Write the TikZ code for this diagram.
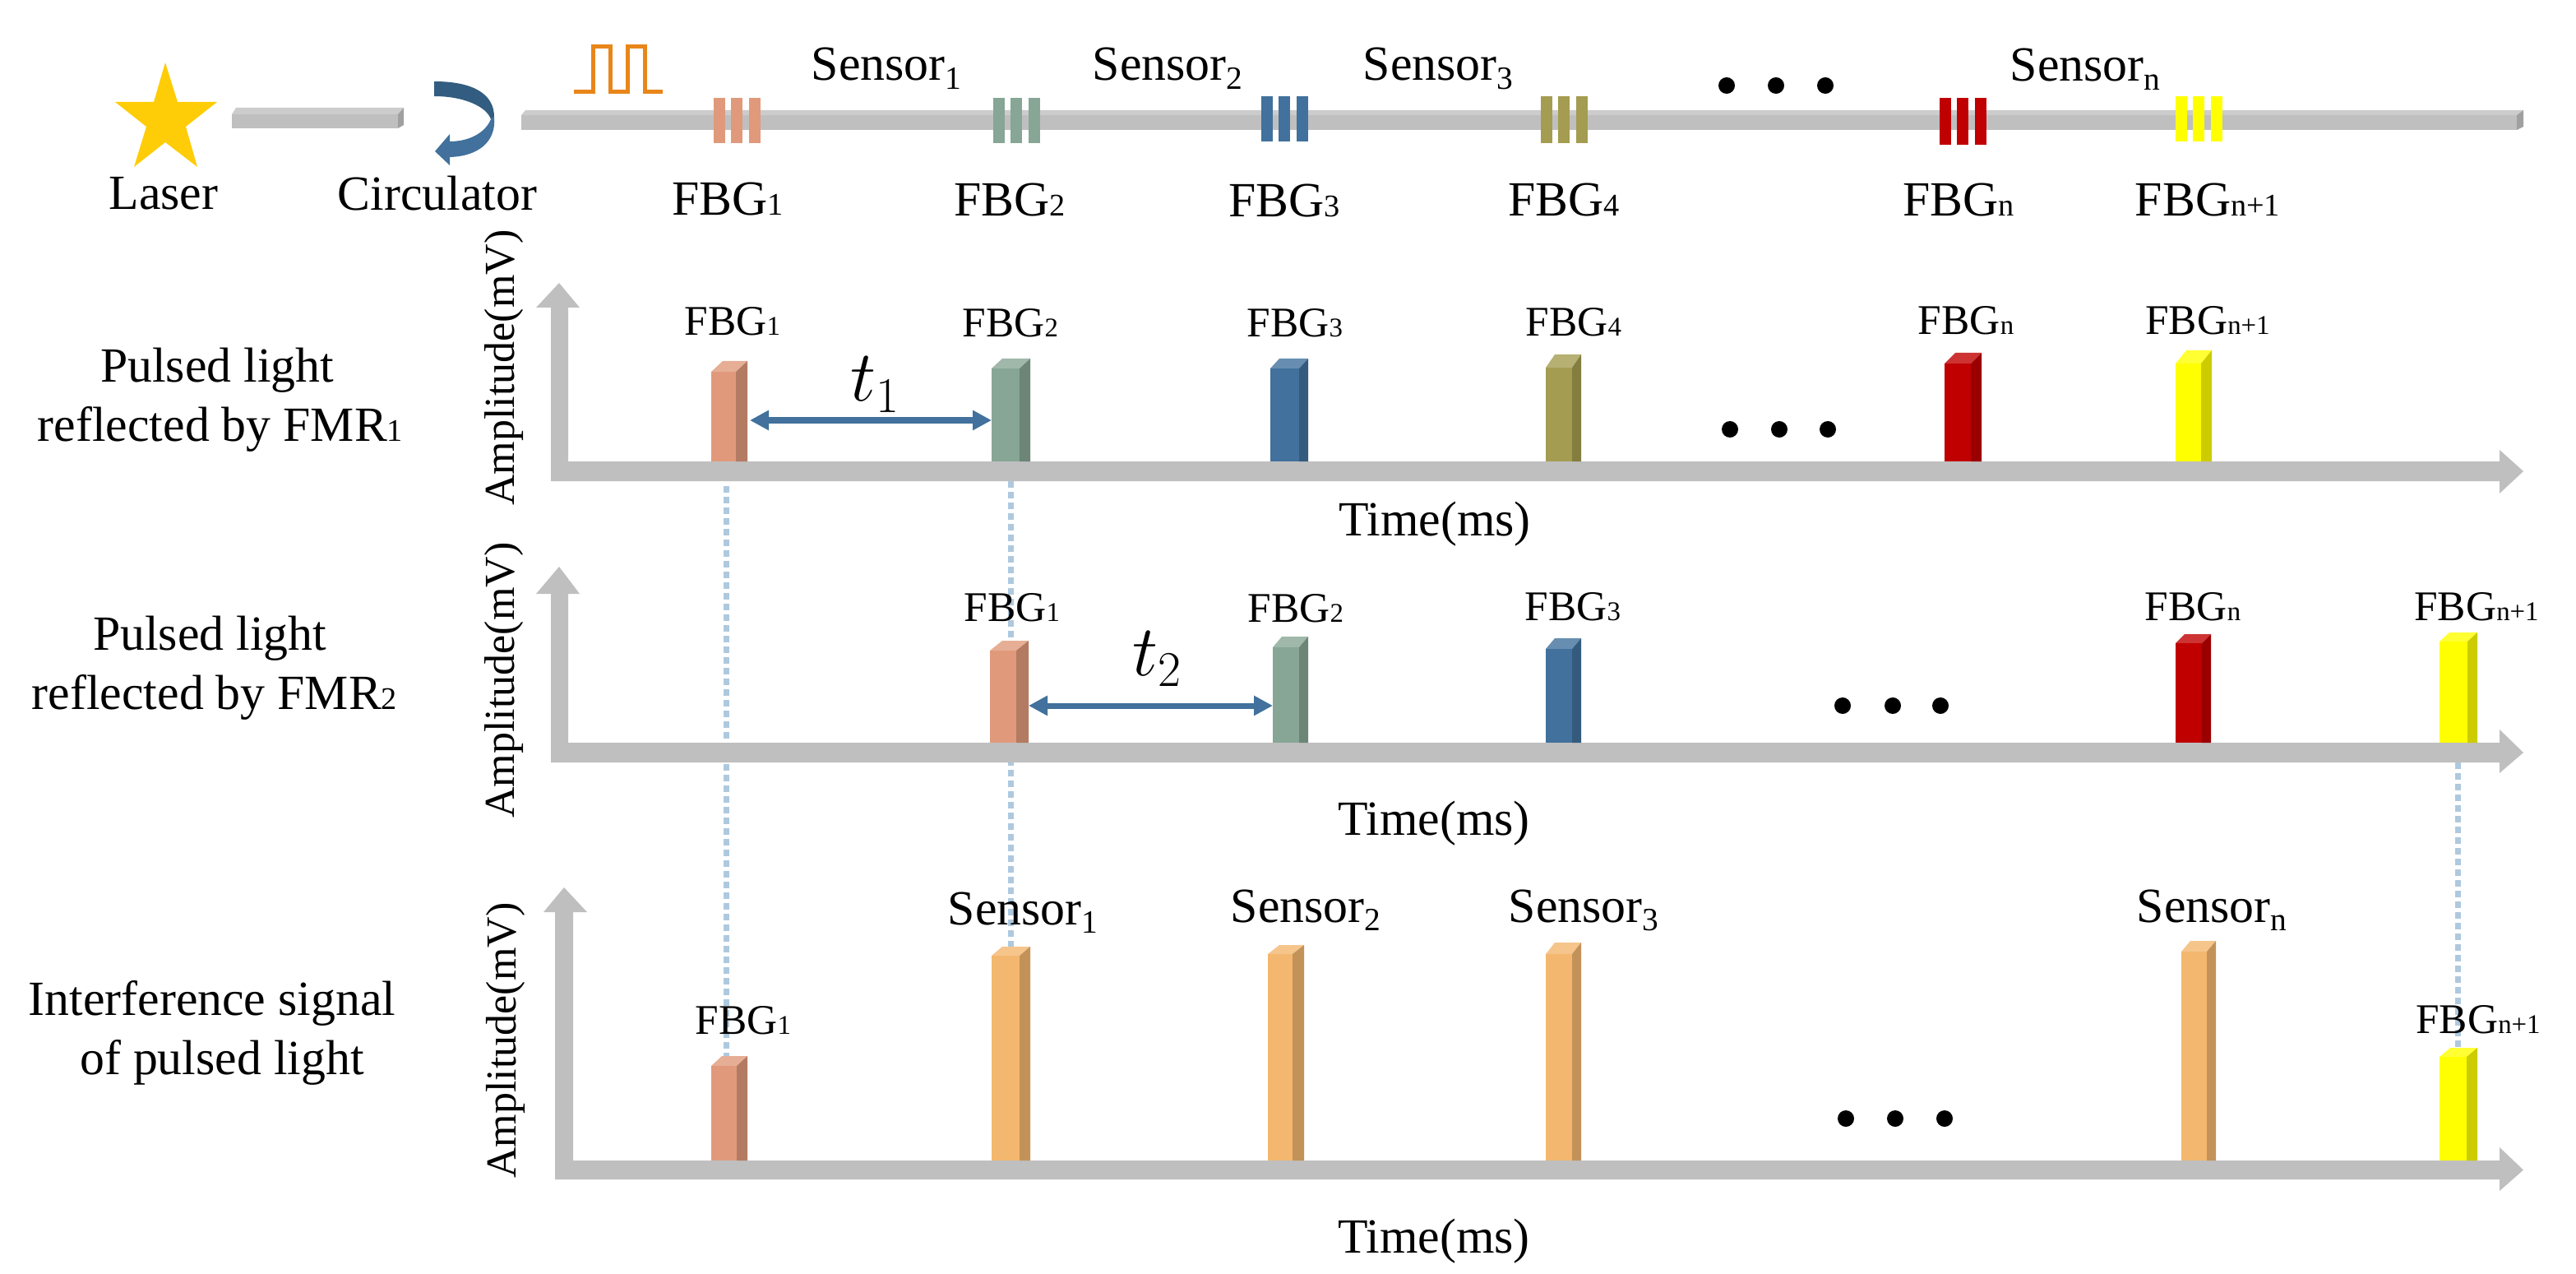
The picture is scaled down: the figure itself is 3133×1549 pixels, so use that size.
\documentclass[tikz,border=0pt]{standalone}
\usepackage{fontspec}
\setmainfont{Liberation Serif}
\usetikzlibrary{arrows.meta}

\definecolor{axisgray}{HTML}{BFBFBF}
\definecolor{fibertop}{HTML}{CCCCCC}
\definecolor{fiberend}{HTML}{A0A0A0}
\definecolor{salmon}{HTML}{E09A7B}
\definecolor{sage}{HTML}{87A695}
\definecolor{steel}{HTML}{41719C}
\definecolor{steeldark}{HTML}{325D80}
\definecolor{olive}{HTML}{A49C50}
\definecolor{darkred}{HTML}{C00000}
\definecolor{amber}{HTML}{F4B76F}
\definecolor{lemon}{RGB}{255,255,0}
\definecolor{starcol}{HTML}{FFCC08}
\definecolor{pulsecol}{HTML}{E8861A}
\definecolor{dropcol}{HTML}{AEC9DF}

\newcommand{\sm}[1]{\scalebox{0.64}{#1}}
\newcommand{\lowsm}[1]{\raisebox{-3pt}{\scalebox{0.66}{#1}}}

\tikzset{
	biglab/.style={anchor=base, inner sep=0pt, font=\fontsize{17}{20}\selectfont},
	smalllab/.style={anchor=base, inner sep=0pt, font=\fontsize{14.6}{17}\selectfont},
	ylab/.style={anchor=base, inner sep=0pt, rotate=90, font=\fontsize{14.8}{17}\selectfont},
	dotnode/.style={circle, fill=black, inner sep=0pt, minimum size=0.2cm},
	barface/.style={inner sep=0pt, outer sep=0pt, anchor=south west},
	droplink/.style={dropcol, line width=0.07cm, dash pattern=on 0.08cm off 0.05cm},
	timelink/.style={steel, line width=0.07cm, {Triangle[length=0.23cm,width=0.23cm]}-{Triangle[length=0.23cm,width=0.23cm]}}
}

\begin{document}
\begin{tikzpicture}[x=0.01cm, y=-0.01cm]
	\useasboundingbox (0,0) rectangle (3133,1549);

	%laser
	\fill[starcol] (201,76)--(216,124)--(264,124)--(226,154)--(240,203)--(201,173)--(163,203)--(178,154)--(140,124)--(187,124)--cycle;

	%circulator
	\fill[steeldark] (528,99) .. controls (575,99) and (601,114) .. (601,142) -- (597,145) .. controls (592,130) and (565,117) .. (528,117) -- cycle;
	\fill[steel] (601,142) .. controls (604,172) and (582,190) .. (547,191) -- (547,201) -- (529,184) -- (547,163) -- (547,172) .. controls (570,172) and (590,162) .. (597,145) -- cycle;

	%fibers
	\foreach \xa/\xb/\xc/\ya/\yb/\yc in {282/484/491/131/139/156, 634/3061/3069/134/140/158}{
		\fill[fibertop] (\xa,\yb)--(\xa+5,\ya)--(\xc,\ya)--(\xb,\yb)--cycle;
		\fill[fiberend] (\xb,\yb)--(\xc,\ya)--(\xc,\yc-4)--(\xb,\yc)--cycle;
		\fill[axisgray] (\xa,\yb) rectangle (\xb,\yc);
	}

	%input pulse
	\draw[pulsecol, line width=0.05cm] (698,112)--(721,112)--(721,57)--(742,57)--(742,112)--(763,112)--(763,57)--(784,57)--(784,112)--(806,112);

	%gratings
	\foreach \x/\ya/\yb/\col in {868/119/174/salmon, 1208/119/174/sage, 1534/117/172/steel, 1874/117/174/olive, 2359/119/176/darkred, 2646/117/172/lemon}{
		\foreach \d in {0, 21, 43}{
			\fill[\col] (\x+\d,\ya) rectangle (\x+\d+14,\yb);
		}
	}

	%text along the fiber
	\foreach \n/\x/\y/\t in {laser/199/255/Laser, circ/532/256/Circulator,
		tfbga/885/262/FBG\sm{1}, tfbgb/1228/263/FBG\sm{2}, tfbgc/1562/264/FBG\sm{3}, tfbgd/1902/263/FBG\sm{4}, tfbgn/2382/263/FBG\sm{n}, tfbgm/2685/263/FBG\sm{n+1},
		tsena/1078/98/Sensor\lowsm{1}, tsenb/1420/98/Sensor\lowsm{2}, tsenc/1749/98/Sensor\lowsm{3}, tsenn/2536/99/Sensor\lowsm{n},
		lineaa/264/465/Pulsed light, lineab/268/537/reflected by FMR\sm{1},
		lineba/255/790/Pulsed light, linebb/261/862/reflected by FMR\sm{2},
		lineca/258/1234/Interference signal, linecb/270/1306/of pulsed light,
		timea/1745/651/Time(ms), timeb/1744/1015/Time(ms), timec/1744/1523/Time(ms)}{
		\node[biglab] (\n) at (\x,\y) {\t};
	}

	%dots
	\foreach \n/\xa/\xb/\xc/\y in {dt/2100/2160/2220/104, da/2104/2164/2223/522, db/2241/2302/2360/858, dc/2245/2305/2365/1360}{
		\node[dotnode] (\n1) at (\xa,\y) {};
		\node[dotnode] (\n2) at (\xb,\y) {};
		\node[dotnode] (\n3) at (\xc,\y) {};
	}

	%drop lines, under axes and bars
	\coordinate (dropa) at (883,591);
	\coordinate (dropb) at (883,1284);
	\coordinate (dropc) at (1229,585);
	\coordinate (dropd) at (1229,1151);
	\coordinate (drope) at (2989,927);
	\coordinate (dropf) at (2989,1274);
	\draw[droplink] (dropa)--(dropb);
	\draw[droplink] (dropc)--(dropd);
	\draw[droplink] (drope)--(dropf);

	%axes
	\foreach \xa/\xm/\xb/\xl/\xr/\yt/\yh/\ya/\yb/\yu/\yd in {670/680/691/652/705/344/374/561/585/547/600, 670/680/691/652/705/689/722/903/927/887/940, 675/686/697/661/714/1079/1109/1411/1434/1395/1448}{
		\fill[axisgray] (\xa,\yb)--(\xa,\yh)--(\xl,\yh)--(\xm,\yt)--(\xr,\yh)--(\xb,\yh)--(\xb,\ya)--(3040,\ya)--(3040,\yu)--(3069,\ya/2+\yb/2)--(3040,\yd)--(3040,\yb)--cycle;
	}
	\node[ylab] (ampa) at (625,447) {Amplitude(mV)};
	\node[ylab] (ampb) at (625,827) {Amplitude(mV)};
	\node[ylab] (ampc) at (627,1265) {Amplitude(mV)};

	%bars
	\foreach \n/\xa/\xb/\xc/\ya/\yb/\yc/\col in {
		afbga/865/895/909/439/452/561/salmon, afbgb/1206/1240/1253/436/448/561/sage, afbgc/1545/1580/1591/436/448/561/steel, afbgd/1880/1912/1923/431/447/561/olive, afbgn/2365/2397/2410/429/442/561/darkred, afbgm/2646/2677/2690/426/442/561/lemon,
		bfbga/1204/1236/1251/779/791/903/salmon, bfbgb/1548/1580/1591/774/787/903/sage, bfbgc/1880/1912/1923/776/789/903/steel, bfbgn/2646/2678/2689/771/782/903/darkred, bfbgm/2967/3001/3013/769/780/903/lemon,
		cfbga/865/896/909/1284/1296/1411/salmon, csena/1206/1240/1253/1151/1162/1411/amber, csenb/1542/1572/1586/1149/1160/1411/amber, csenc/1880/1912/1923/1146/1160/1411/amber, csenn/2653/2684/2695/1144/1157/1411/amber, cfbgm/2967/3000/3013/1274/1285/1411/lemon}{
		\fill[\col!80!white] (\xa,\yb)--(\xa+\xc-\xb,\ya)--(\xc,\ya)--(\xb,\yb)--cycle;
		\fill[\col!80!black] (\xb,\yb)--(\xc,\ya)--(\xc,\yc)--(\xb,\yc)--cycle;
		\node[barface, fill=\col, minimum width={(\xb-\xa)*0.01cm}, minimum height={(\yc-\yb)*0.01cm}] (\n) at (\xa,\yc) {};
		\coordinate (\n side) at (\xc,\yb);
	}

	%bar labels
	\foreach \n/\x/\y/\t in {
		lafbga/891/408/FBG\sm{1}, lafbgb/1229/410/FBG\sm{2}, lafbgc/1575/410/FBG\sm{3}, lafbgd/1914/409/FBG\sm{4}, lafbgn/2391/407/FBG\sm{n}, lafbgm/2685/407/FBG\sm{n+1},
		lbfbga/1231/755/FBG\sm{1}, lbfbgb/1576/756/FBG\sm{2}, lbfbgc/1913/754/FBG\sm{3}, lbfbgn/2667/754/FBG\sm{n}, lbfbgm/3012/754/FBG\sm{n+1},
		lcfbga/904/1257/FBG\sm{1}, lcfbgm/3014/1256/FBG\sm{n+1}}{
		\node[smalllab] (\n) at (\x,\y) {\t};
	}
	\foreach \n/\x/\y/\t in {lcsena/1244/1124/Sensor\lowsm{1}, lcsenb/1588/1121/Sensor\lowsm{2}, lcsenc/1926/1121/Sensor\lowsm{3}, lcsenn/2690/1121/Sensor\lowsm{n}}{
		\node[biglab] (\n) at (\x,\y) {\t};
	}

	%time differences
	\coordinate (ta) at (0,511);
	\coordinate (tb) at (0,858);
	\draw[timelink, shorten <=0.03cm] (afbgaside |- ta)--(afbgb.west |- ta);
	\draw[timelink] (bfbgaside |- tb)--(bfbgb.west |- tb);
	\node[biglab, font=\fontsize{23}{27}\selectfont] (tlaba) at (1065,488) {$t_1$};
	\node[biglab, font=\fontsize{23}{27}\selectfont] (tlabb) at (1408,821) {$t_2$};
\end{tikzpicture}
\end{document}
